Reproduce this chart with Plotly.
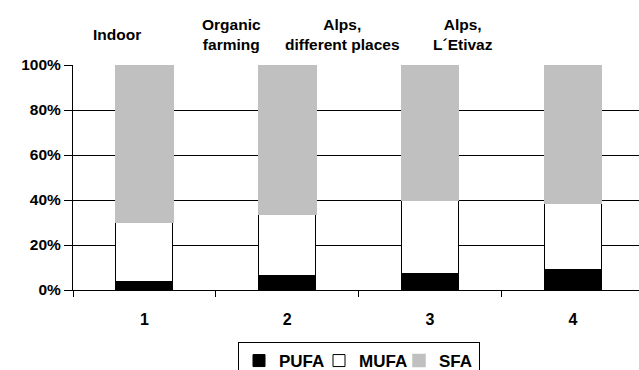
import plotly.graph_objects as go

categories = ["1", "2", "3", "4"]
titles = ["Indoor", "Organic<br>farming", "Alps,<br>different places", "Alps,<br>L´Etivaz"]
series_names = ["PUFA", "MUFA", "SFA"]
pufa = [3.7, 6.4, 7.4, 8.9]
mufa = [26.2, 27.4, 32.3, 29.6]
sfa = [70.1, 66.2, 60.3, 61.5]
y_ticks = [0, 20, 40, 60, 80, 100]
y_tick_labels = ["0%", "20%", "40%", "60%", "80%", "100%"]

FONT = "Liberation Sans, Arial, sans-serif"

fig = go.Figure()
fig.add_bar(x=categories, y=pufa, name=f"<b>{series_names[0]}</b>",
            marker=dict(color="black", line=dict(color="black", width=1)), width=0.4)
fig.add_bar(x=categories, y=mufa, name=f"<b>{series_names[1]}</b>",
            marker=dict(color="white", line=dict(color="black", width=1)), width=0.4)
fig.add_bar(x=categories, y=sfa, name=f"<b>{series_names[2]}</b>",
            marker=dict(color="#c0c0c0", line=dict(color="#c0c0c0", width=1.5)), width=0.4)

# title positions (pixel x centres) converted to paper coordinates
title_px = [117, 231, 342, 463]
plot_left, plot_w = 73, 566
for t, px in zip(titles, title_px):
    fig.add_annotation(text=f"<b>{t}</b>", xref="paper", yref="paper",
                       x=(px - plot_left) / plot_w, y=(290 - 34) / 225,
                       xanchor="center", yanchor="middle", showarrow=False,
                       font=dict(family=FONT, size=15.5, color="black"))

fig.update_layout(
    barmode="stack",
    width=639, height=370,
    margin=dict(l=73, r=0, t=65, b=80, autoexpand=False),
    paper_bgcolor="white", plot_bgcolor="white",
    font=dict(family=FONT, size=15, color="black"),
    showlegend=True,
    legend=dict(orientation="h", x=(359 - plot_left) / plot_w, xanchor="center",
                y=(290 - 342) / 225, yanchor="top", traceorder="normal",
                bordercolor="black", borderwidth=1, bgcolor="white",
                font=dict(family=FONT, size=17, color="black"),
                itemwidth=30, tracegroupgap=0, entrywidth=35),
)
fig.update_xaxes(type="category", range=[-0.5, 3.463], showline=True, linecolor="black", linewidth=1,
                 ticks="outside", tickson="boundaries", ticklen=6, tickcolor="black",
                 showgrid=False, tickfont=dict(family=FONT, size=16, color="black"),
                 ticklabelstandoff=15,
                 tickvals=categories, ticktext=[f"<b>{c}</b>" for c in categories])
fig.update_yaxes(range=[0, 100], tickvals=y_ticks,
                 ticktext=[f"<b>{t}</b>" for t in y_tick_labels],
                 showline=True, linecolor="black", linewidth=1,
                 ticks="outside", ticklen=8, tickcolor="black",
                 showgrid=True, gridcolor="black", gridwidth=1, zeroline=False,
                 tickfont=dict(family=FONT, size=15.5, color="black"))

fig.write_html("out.html", config={"displayModeBar": False},
               post_script="document.body.style.margin='0';")
